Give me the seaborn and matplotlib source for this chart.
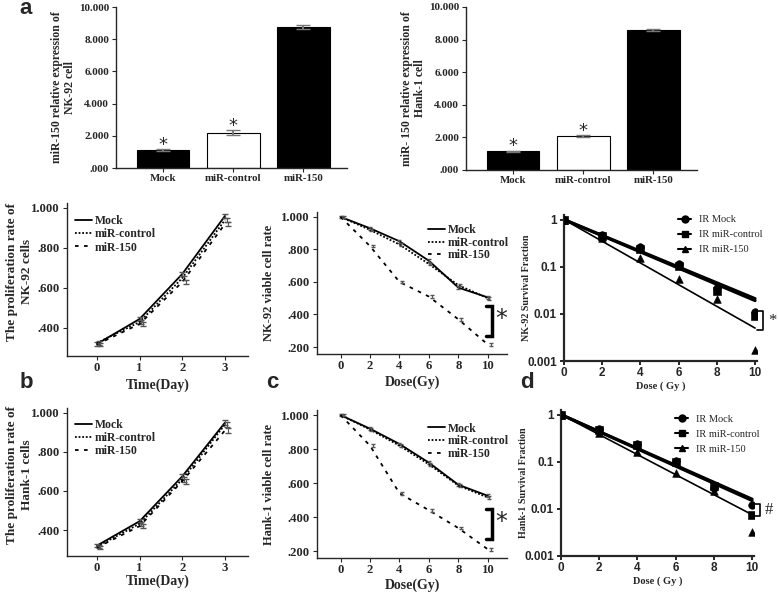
import numpy as np
import matplotlib
matplotlib.use("Agg")
import matplotlib.pyplot as plt
import seaborn as sns
from matplotlib.lines import Line2D
from matplotlib.ticker import FuncFormatter, NullLocator, FixedLocator

sns.set_style("ticks")
plt.rcParams['font.family'] = ['Liberation Serif', 'DejaVu Serif']
plt.rcParams['font.weight'] = 'bold'
plt.rcParams['axes.linewidth'] = 1.0
plt.rcParams['xtick.major.size'] = 3
plt.rcParams['ytick.major.size'] = 3
plt.rcParams['xtick.major.pad'] = 1.5
plt.rcParams['ytick.major.pad'] = 2

# ---- data ----
groups = ["Mock", "miR-control", "miR-150"]

expr_nk92 = [1.10, 2.20, 8.75]
expr_nk92_err = [0.05, 0.15, 0.12]
expr_hank1 = [1.15, 2.10, 8.60]
expr_hank1_err = [0.04, 0.06, 0.06]

days = [0, 1, 2, 3]
prolif_nk92 = [[0.320, 0.445, 0.670, 0.960],
               [0.325, 0.430, 0.650, 0.940],
               [0.318, 0.420, 0.630, 0.920]]
prolif_hank1 = [[0.320, 0.445, 0.675, 0.950],
                [0.315, 0.432, 0.660, 0.940],
                [0.310, 0.420, 0.650, 0.910]]
prolif_err = [0.008, 0.010, 0.012, 0.012]

doses = [0, 2, 4, 6, 8, 10]
viable_nk92 = [[1.00, 0.930, 0.850, 0.730, 0.565, 0.505],
               [1.00, 0.920, 0.830, 0.710, 0.580, 0.500],
               [1.00, 0.820, 0.600, 0.510, 0.370, 0.215]]
viable_hank1 = [[1.00, 0.920, 0.830, 0.720, 0.590, 0.525],
                [1.00, 0.915, 0.820, 0.710, 0.585, 0.515],
                [1.00, 0.820, 0.540, 0.440, 0.335, 0.210]]
viable_err = [0.004, 0.008, 0.008, 0.008, 0.008, 0.008]

sf_labels = ["IR Mock", "IR miR-control", "IR miR-150"]
sf_nk92 = [[1.0, 0.48, 0.26, 0.115, 0.035, 0.011],
           [1.0, 0.45, 0.24, 0.105, 0.030, 0.009],
           [1.0, 0.40, 0.155, 0.055, 0.021, 0.0017]]
sf_hank1 = [[1.0, 0.50, 0.24, 0.105, 0.028, 0.012],
            [1.0, 0.46, 0.23, 0.100, 0.030, 0.0075],
            [1.0, 0.40, 0.16, 0.057, 0.024, 0.0033]]
# fitted single-hit slopes (SF = exp(-alpha * D))
alpha_nk92 = [0.386, 0.396, 0.530]
alpha_hank1 = [0.413, 0.420, 0.489]

W, H = 778, 594
fig = plt.figure(figsize=(W / 100, H / 100), dpi=100)


def add_ax(x0, x1, y0, y1):
    return fig.add_axes([x0 / W, 1 - y1 / H, (x1 - x0) / W, (y1 - y0) / H])


def spss_fmt(v, pos):
    s = f"{v:.3f}"
    return s[1:] if s.startswith("0.") else s


def place_xlabel(ax, px_below, axes_h):
    # centre of the x label sits px_below pixels under the x axis
    ax.xaxis.label.set_va("center")
    ax.xaxis.set_label_coords(0.5, -px_below / axes_h)


line_styles = ["-", (0, (1, 1)), (0, (2, 3))]
sans_bold = dict(family=['Liberation Sans', 'DejaVu Sans'], weight='bold')


def bar_panel(ax, vals, errs, ylabel):
    sns.barplot(x=groups, y=vals, hue=groups, palette=["black", "white", "black"],
                edgecolor="black", linewidth=0.8, width=0.75, legend=False, ax=ax)
    ax.errorbar(range(3), vals, yerr=errs, fmt="none", ecolor="#777777",
                elinewidth=1.5, capsize=5)
    for i in range(2):
        ax.text(i, vals[i] + errs[i] - 0.05, "*", ha="center", va="baseline", fontsize=13,
                family=['DejaVu Sans'], weight='normal')
    ax.set_xlim(-0.67, 2.62)
    ax.set_ylim(0, 10)
    ax.yaxis.set_major_locator(FixedLocator([0, 2, 4, 6, 8, 10]))
    ax.yaxis.set_major_formatter(FuncFormatter(spss_fmt))
    ax.tick_params(axis="y", labelsize=8)
    ax.tick_params(axis="x", labelsize=7.8)
    ax.set_ylabel(ylabel, fontsize=8.5, fontweight="bold", linespacing=1.1)
    ax.yaxis.set_label_coords(-40 / 231, 0.5)
    sns.despine(ax=ax)


def prolif_panel(ax, data, ylabel, ylo, leg_top):
    for k in range(3):
        sns.lineplot(x=days, y=data[k], color="black", linestyle=line_styles[k],
                     linewidth=1.3, ax=ax)
        ax.errorbar(np.array(days) + 0.04 * k, data[k], yerr=prolif_err, fmt="none",
                    ecolor="#555555", elinewidth=0.8, capsize=2)
    ax.set_xlim(-0.7, 3.54)
    ax.set_ylim(ylo, 1.025)
    ax.set_xticks(days)
    ax.yaxis.set_major_locator(FixedLocator([0.4, 0.6, 0.8, 1.0]))
    ax.yaxis.set_major_formatter(FuncFormatter(spss_fmt))
    ax.tick_params(labelsize=9.2)
    handles = [Line2D([], [], color="black", linestyle=ls, linewidth=1.3) for ls in line_styles]
    ax.legend(handles, groups, loc="upper left", bbox_to_anchor=(0.044, leg_top), frameon=False,
              fontsize=8.5, handlelength=1.45, handletextpad=0.25, labelspacing=0.1,
              borderaxespad=0, borderpad=0)
    ax.set_ylabel(ylabel, fontsize=9.5, fontweight="bold", linespacing=1.35)
    ax.yaxis.set_label_coords(-34 / 181, 0.55)
    ax.set_xlabel("Time(Day)", fontsize=10, fontweight="bold")
    sns.despine(ax=ax)


def viable_panel(ax, data, ylabel, ylo, leg_top):
    for k in range(3):
        sns.lineplot(x=doses, y=data[k], color="black", linestyle=line_styles[k],
                     linewidth=1.3, ax=ax)
        ax.errorbar(np.array(doses) + 0.1 * k, data[k], yerr=viable_err, fmt="none",
                    ecolor="#555555", elinewidth=0.8, capsize=1.5)
    ax.set_xlim(-1.6, 11.3)
    ax.set_ylim(ylo, 1.03)
    ax.set_xticks(doses)
    ax.yaxis.set_major_locator(FixedLocator([0.2, 0.4, 0.6, 0.8, 1.0]))
    ax.yaxis.set_major_formatter(FuncFormatter(spss_fmt))
    ax.tick_params(labelsize=9.2)
    handles = [Line2D([], [], color="black", linestyle=ls, linewidth=1.3) for ls in line_styles]
    ax.legend(handles, groups, loc="upper right", bbox_to_anchor=(1.01, leg_top), frameon=False,
              fontsize=8.5, handlelength=1.45, handletextpad=0.25, labelspacing=0.05,
              borderaxespad=0, borderpad=0)
    # significance bracket
    ax.plot([9.9, 10.3, 10.3, 9.9], [0.45, 0.45, 0.27, 0.27], color="black", lw=2.5,
            clip_on=False, solid_joinstyle="miter")
    ax.text(10.9, 0.37, "*", ha="center", va="center", fontsize=17,
            family=['DejaVu Sans'], weight='normal', clip_on=False)
    ax.set_ylabel(ylabel, fontsize=9, fontweight="bold")
    ax.yaxis.set_label_coords(-42 / 190, 0.5)
    ax.set_xlabel("Dose(Gy)", fontsize=10, fontweight="bold")
    sns.despine(ax=ax)


def survival_panel(ax, data, alphas, ylabel, bracket, sig, leg_top):
    markers = ["o", "s", "^"]
    widths = [2.2, 2.2, 1.2]
    fit_x = np.array([0, 10])
    for k in range(3):
        sns.lineplot(x=fit_x, y=np.exp(-alphas[k] * fit_x), color="black",
                     linewidth=widths[k], ax=ax)
        sns.scatterplot(x=doses, y=data[k], marker=markers[k], color="black", s=30,
                        edgecolor="black", ax=ax, zorder=3)
    ax.set_yscale("log")
    ax.set_xlim(0, 10.1)
    ax.set_ylim(0.001, 1.25)
    ax.set_xticks(doses)
    ax.yaxis.set_major_locator(FixedLocator([0.001, 0.01, 0.1, 1]))
    ax.yaxis.set_minor_locator(NullLocator())
    ax.yaxis.set_major_formatter(FuncFormatter(lambda v, p: f"{v:g}"))
    for lab in ax.get_xticklabels() + ax.get_yticklabels():
        lab.set_fontproperties(sans_bold)
        lab.set_fontsize(8.5)
    for sp in ax.spines.values():
        sp.set_linewidth(1.6)
    ax.tick_params(width=1.4, length=3)
    handles = [Line2D([], [], color="black", marker=m, markersize=5, linewidth=1.5)
               for m in markers]
    ax.legend(handles, sf_labels, loc="upper left", bbox_to_anchor=(0.59, leg_top), frameon=False,
              prop=dict(family=['Liberation Serif'], weight='normal', size=7.5),
              handlelength=1.3, handletextpad=0.7, labelspacing=0.55, borderaxespad=0,
              borderpad=0)
    ax.plot([10.1, 10.4, 10.4, 10.1], [bracket[0], bracket[0], bracket[1], bracket[1]],
            color="black", lw=1.2, clip_on=False)
    ax.text(10.9, np.sqrt(bracket[0] * bracket[1]), sig, ha="center", va="center",
            fontsize=12, family=['Liberation Serif'], weight='normal', clip_on=False)
    ax.set_ylabel(ylabel, fontsize=7.2, fontweight="bold")
    ax.yaxis.set_label_coords(-33 / 193, 0.5)
    ax.set_xlabel("Dose ( Gy )", fontsize=7.5, fontweight="bold")
    sns.despine(ax=ax)


# row 1: expression bars
ax = add_ax(116, 347, 7, 168)
bar_panel(ax, expr_nk92, expr_nk92_err, "miR-150 relative expression of\nNK-92 cell")
ax = add_ax(466, 697, 7, 170)
bar_panel(ax, expr_hank1, expr_hank1_err, "miR- 150 relative expression of\nHank-1 cell")

# row 2: NK-92
ax = add_ax(67, 248, 203, 356)
prolif_panel(ax, prolif_nk92, "The proliferation rate of\nNK-92 cells", 0.26, 0.92)
place_xlabel(ax, 29, 153)
ax = add_ax(317, 507, 212, 354)
viable_panel(ax, viable_nk92, "NK-92 viable cell rate", 0.157, 0.915)
place_xlabel(ax, 28, 142)
ax = add_ax(564, 757, 215, 361)
survival_panel(ax, sf_nk92, alpha_nk92, "NK-92 Survival Fraction", (0.0115, 0.0045), "*", 1.0)
place_xlabel(ax, 25, 146)

# row 3: Hank-1
ax = add_ax(67, 248, 408, 556)
prolif_panel(ax, prolif_hank1, "The proliferation rate of\nHank-1 cells", 0.267, 0.925)
place_xlabel(ax, 25, 148)
ax = add_ax(317, 507, 410, 558)
viable_panel(ax, viable_hank1, "Hank-1 viable cell rate", 0.159, 0.915)
place_xlabel(ax, 27, 148)
ax = add_ax(561, 754, 410, 556)
survival_panel(ax, sf_hank1, alpha_hank1, "Hank-1 Survival Fraction", (0.0125, 0.0072), "#", 0.97)
place_xlabel(ax, 25, 146)

# panel letters
for txt, x, y in [("a", 26, 9), ("b", 26, 382), ("c", 272, 383), ("d", 527, 382)]:
    fig.text(x / W, 1 - y / H, txt, ha="center", va="center", fontsize=16,
             family=['Liberation Sans', 'DejaVu Sans'], weight="bold")

fig.savefig("out.png", dpi=100)
